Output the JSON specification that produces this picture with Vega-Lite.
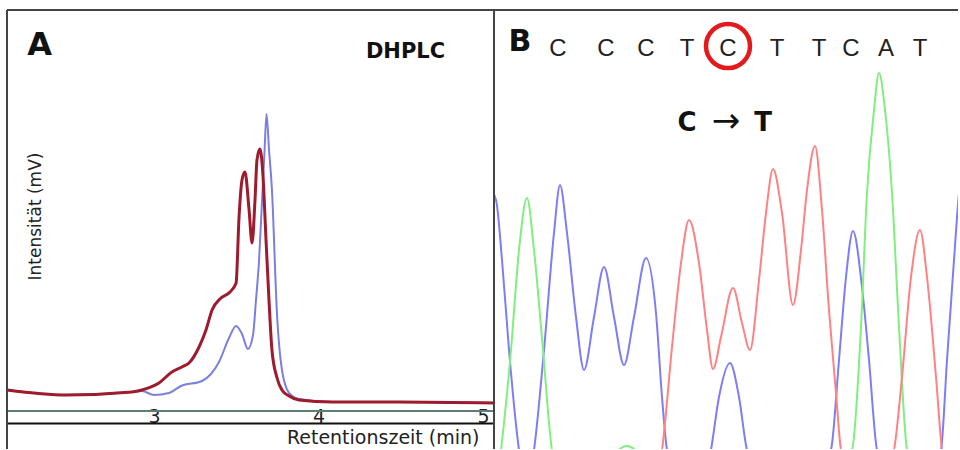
{
  "$schema": "https://vega.github.io/schema/vega-lite/v6.json",
  "background": "white",
  "padding": {"left": 1, "top": 9, "right": 0, "bottom": 0},
  "spacing": 0,
  "bounds": "flush",
  "config": {"view": {"stroke": null}, "font": "DejaVu Sans"},
  "datasets": {
    "hplc": [
      {"t": 2.106, "mv": 21, "trace": "Wildtyp"}, {"t": 2.465, "mv": 16, "trace": "Wildtyp"}, {"t": 2.866, "mv": 19, "trace": "Wildtyp"}, {"t": 2.927, "mv": 20, "trace": "Wildtyp"}, {"t": 3.000, "mv": 16, "trace": "Wildtyp"}, {"t": 3.091, "mv": 18, "trace": "Wildtyp"}, {"t": 3.164, "mv": 25, "trace": "Wildtyp"}, {"t": 3.292, "mv": 30, "trace": "Wildtyp"}, {"t": 3.395, "mv": 49, "trace": "Wildtyp"}, {"t": 3.456, "mv": 73, "trace": "Wildtyp"}, {"t": 3.499, "mv": 85, "trace": "Wildtyp"}, {"t": 3.535, "mv": 77, "trace": "Wildtyp"}, {"t": 3.571, "mv": 62, "trace": "Wildtyp"}, {"t": 3.602, "mv": 76, "trace": "Wildtyp"}, {"t": 3.620, "mv": 111, "trace": "Wildtyp"}, {"t": 3.638, "mv": 149, "trace": "Wildtyp"}, {"t": 3.657, "mv": 211, "trace": "Wildtyp"}, {"t": 3.672, "mv": 260, "trace": "Wildtyp"}, {"t": 3.684, "mv": 297, "trace": "Wildtyp"}, {"t": 3.699, "mv": 262, "trace": "Wildtyp"}, {"t": 3.717, "mv": 221, "trace": "Wildtyp"}, {"t": 3.748, "mv": 96, "trace": "Wildtyp"}, {"t": 3.778, "mv": 41, "trace": "Wildtyp"}, {"t": 3.821, "mv": 18, "trace": "Wildtyp"}, {"t": 3.881, "mv": 12, "trace": "Wildtyp"}, {"t": 4.082, "mv": 9, "trace": "Wildtyp"}, {"t": 4.489, "mv": 9, "trace": "Wildtyp"}, {"t": 5.067, "mv": 8, "trace": "Wildtyp"},
      {"t": 2.107, "mv": 21, "trace": "Mutation"}, {"t": 2.465, "mv": 16, "trace": "Mutation"}, {"t": 2.866, "mv": 19, "trace": "Mutation"}, {"t": 2.927, "mv": 21, "trace": "Mutation"}, {"t": 3.030, "mv": 28, "trace": "Mutation"}, {"t": 3.109, "mv": 39, "trace": "Mutation"}, {"t": 3.170, "mv": 44, "trace": "Mutation"}, {"t": 3.213, "mv": 48, "trace": "Mutation"}, {"t": 3.274, "mv": 64, "trace": "Mutation"}, {"t": 3.316, "mv": 81, "trace": "Mutation"}, {"t": 3.353, "mv": 101, "trace": "Mutation"}, {"t": 3.407, "mv": 113, "trace": "Mutation"}, {"t": 3.462, "mv": 119, "trace": "Mutation"}, {"t": 3.499, "mv": 128, "trace": "Mutation"}, {"t": 3.517, "mv": 194, "trace": "Mutation"}, {"t": 3.535, "mv": 231, "trace": "Mutation"}, {"t": 3.553, "mv": 239, "trace": "Mutation"}, {"t": 3.578, "mv": 201, "trace": "Mutation"}, {"t": 3.596, "mv": 168, "trace": "Mutation"}, {"t": 3.614, "mv": 211, "trace": "Mutation"}, {"t": 3.626, "mv": 251, "trace": "Mutation"}, {"t": 3.644, "mv": 262, "trace": "Mutation"}, {"t": 3.663, "mv": 234, "trace": "Mutation"}, {"t": 3.681, "mv": 171, "trace": "Mutation"}, {"t": 3.699, "mv": 111, "trace": "Mutation"}, {"t": 3.717, "mv": 61, "trace": "Mutation"}, {"t": 3.748, "mv": 33, "trace": "Mutation"}, {"t": 3.778, "mv": 21, "trace": "Mutation"}, {"t": 3.821, "mv": 15, "trace": "Mutation"}, {"t": 3.881, "mv": 11, "trace": "Mutation"}, {"t": 4.082, "mv": 9, "trace": "Mutation"}, {"t": 4.489, "mv": 9, "trace": "Mutation"}, {"t": 5.067, "mv": 8, "trace": "Mutation"}
    ],
    "seq": [
      {"scan": -7, "signal": 265, "dye": "C"}, {"scan": 2, "signal": 250, "dye": "C"}, {"scan": 8, "signal": 190, "dye": "C"}, {"scan": 15, "signal": 100, "dye": "C"}, {"scan": 25, "signal": 0, "dye": "C"}, {"scan": 32, "signal": -40, "dye": "C"}, {"scan": 40, "signal": 0, "dye": "C"}, {"scan": 50, "signal": 100, "dye": "C"}, {"scan": 60, "signal": 217, "dye": "C"}, {"scan": 66, "signal": 265, "dye": "C"}, {"scan": 73, "signal": 217, "dye": "C"}, {"scan": 82, "signal": 133, "dye": "C"}, {"scan": 90, "signal": 80, "dye": "C"}, {"scan": 100, "signal": 133, "dye": "C"}, {"scan": 110, "signal": 183, "dye": "C"}, {"scan": 120, "signal": 133, "dye": "C"}, {"scan": 130, "signal": 85, "dye": "C"}, {"scan": 140, "signal": 133, "dye": "C"}, {"scan": 152, "signal": 192, "dye": "C"}, {"scan": 162, "signal": 137, "dye": "C"}, {"scan": 168, "signal": 53, "dye": "C"}, {"scan": 173, "signal": 0, "dye": "C"}, {"scan": 195, "signal": -70, "dye": "C"}, {"scan": 217, "signal": 0, "dye": "C"}, {"scan": 225, "signal": 53, "dye": "C"}, {"scan": 236, "signal": 87, "dye": "C"}, {"scan": 245, "signal": 53, "dye": "C"}, {"scan": 253, "signal": 0, "dye": "C"}, {"scan": 295, "signal": -80, "dye": "C"}, {"scan": 337, "signal": 0, "dye": "C"}, {"scan": 345, "signal": 90, "dye": "C"}, {"scan": 352, "signal": 173, "dye": "C"}, {"scan": 359, "signal": 219, "dye": "C"}, {"scan": 368, "signal": 163, "dye": "C"}, {"scan": 375, "signal": 90, "dye": "C"}, {"scan": 383, "signal": 0, "dye": "C"}, {"scan": 415, "signal": -70, "dye": "C"}, {"scan": 447, "signal": 0, "dye": "C"}, {"scan": 453, "signal": 90, "dye": "C"}, {"scan": 460, "signal": 190, "dye": "C"}, {"scan": 465, "signal": 257, "dye": "C"}, {"scan": 473, "signal": 300, "dye": "C"},
      {"scan": -5, "signal": -80, "dye": "A"}, {"scan": 7, "signal": 0, "dye": "A"}, {"scan": 17, "signal": 100, "dye": "A"}, {"scan": 25, "signal": 200, "dye": "A"}, {"scan": 33, "signal": 252, "dye": "A"}, {"scan": 40, "signal": 200, "dye": "A"}, {"scan": 49, "signal": 100, "dye": "A"}, {"scan": 58, "signal": 0, "dye": "A"}, {"scan": 85, "signal": -80, "dye": "A"}, {"scan": 117, "signal": -8, "dye": "A"}, {"scan": 133, "signal": 4, "dye": "A"}, {"scan": 149, "signal": -8, "dye": "A"}, {"scan": 185, "signal": -80, "dye": "A"}, {"scan": 285, "signal": -90, "dye": "A"}, {"scan": 358, "signal": 0, "dye": "A"}, {"scan": 367, "signal": 123, "dye": "A"}, {"scan": 373, "signal": 257, "dye": "A"}, {"scan": 380, "signal": 340, "dye": "A"}, {"scan": 385, "signal": 377, "dye": "A"}, {"scan": 391, "signal": 340, "dye": "A"}, {"scan": 398, "signal": 257, "dye": "A"}, {"scan": 405, "signal": 123, "dye": "A"}, {"scan": 413, "signal": 0, "dye": "A"}, {"scan": 440, "signal": -80, "dye": "A"}, {"scan": 475, "signal": -80, "dye": "A"},
      {"scan": 145, "signal": -80, "dye": "T"}, {"scan": 168, "signal": 0, "dye": "T"}, {"scan": 178, "signal": 103, "dye": "T"}, {"scan": 187, "signal": 187, "dye": "T"}, {"scan": 195, "signal": 230, "dye": "T"}, {"scan": 205, "signal": 187, "dye": "T"}, {"scan": 213, "signal": 120, "dye": "T"}, {"scan": 219, "signal": 81, "dye": "T"}, {"scan": 227, "signal": 113, "dye": "T"}, {"scan": 239, "signal": 162, "dye": "T"}, {"scan": 248, "signal": 127, "dye": "T"}, {"scan": 256, "signal": 100, "dye": "T"}, {"scan": 265, "signal": 170, "dye": "T"}, {"scan": 272, "signal": 237, "dye": "T"}, {"scan": 279, "signal": 281, "dye": "T"}, {"scan": 288, "signal": 237, "dye": "T"}, {"scan": 299, "signal": 145, "dye": "T"}, {"scan": 307, "signal": 200, "dye": "T"}, {"scan": 313, "signal": 260, "dye": "T"}, {"scan": 321, "signal": 304, "dye": "T"}, {"scan": 328, "signal": 240, "dye": "T"}, {"scan": 335, "signal": 140, "dye": "T"}, {"scan": 342, "signal": 57, "dye": "T"}, {"scan": 347, "signal": 0, "dye": "T"}, {"scan": 373, "signal": -70, "dye": "T"}, {"scan": 400, "signal": 0, "dye": "T"}, {"scan": 408, "signal": 73, "dye": "T"}, {"scan": 417, "signal": 173, "dye": "T"}, {"scan": 426, "signal": 220, "dye": "T"}, {"scan": 433, "signal": 173, "dye": "T"}, {"scan": 442, "signal": 73, "dye": "T"}, {"scan": 448, "signal": 0, "dye": "T"}, {"scan": 465, "signal": -70, "dye": "T"}, {"scan": 480, "signal": -70, "dye": "T"}
    ],
    "bases": [
      {"pos": 64, "base": "C"}, {"pos": 112, "base": "C"}, {"pos": 152, "base": "C"}, {"pos": 193, "base": "T"}, {"pos": 234, "base": "C"}, {"pos": 283, "base": "T"}, {"pos": 325, "base": "T"}, {"pos": 357, "base": "C"}, {"pos": 392, "base": "A"}, {"pos": 426, "base": "T"}
    ],
    "mutation": [
      {"pos": 193, "label": "C", "part": "from"}, {"pos": 232, "label": "→", "part": "arrow"}, {"pos": 269, "label": "T", "part": "to"}
    ]
  },
  "hconcat": [
    {
      "width": 487,
      "height": 439,
      "layer": [
        {
          "data": {"values": [{}]},
          "mark": {"type": "rule", "color": "#5d7f77", "strokeWidth": 2},
          "encoding": {"y": {"datum": 0, "type": "quantitative", "scale": {"domain": [-38, 401], "nice": false, "zero": false},
            "axis": {"domain": false, "ticks": false, "labels": false, "grid": false, "title": "Intensität (mV)", "titleX": 28, "titleY": 206, "titleAngle": -90, "titleAlign": "center", "titleBaseline": "middle", "titleFontSize": 17, "titleFontWeight": "normal", "titleColor": "#222"}}}
        },
        {
          "data": {"name": "hplc"},
          "transform": [{"filter": "datum.trace == 'Wildtyp'"}],
          "mark": {"type": "line", "color": "#7b7fe0", "strokeWidth": 2, "interpolate": "monotone"},
          "encoding": {
            "x": {"field": "t", "type": "quantitative", "scale": {"domain": [2.1064, 5.0669], "nice": false, "zero": false},
              "axis": {"values": [3, 4, 5], "format": "d", "offset": -26, "grid": false, "ticks": false, "tickSize": 0, "domainColor": "#111", "domainWidth": 2, "labelPadding": -1, "labelBaseline": "alphabetic", "labelFontSize": 19, "labelColor": "#222", "labelFlush": false, "labelBound": false, "labelOverlap": false, "title": "Retentionszeit (min)", "titleFontSize": 19, "titleFontWeight": "normal", "titleColor": "#222", "titleX": 472, "titleY": 20, "titleAlign": "right", "titleBaseline": "alphabetic", "titleAnchor": "end"}},
            "y": {"field": "mv", "type": "quantitative", "scale": {"domain": [-38, 401], "nice": false, "zero": false},
              "axis": {"domain": false, "ticks": false, "labels": false, "grid": false, "title": "Intensität (mV)", "titleX": 28, "titleY": 206, "titleAngle": -90, "titleAlign": "center", "titleBaseline": "middle", "titleFontSize": 17, "titleFontWeight": "normal", "titleColor": "#222"}}
          }
        },
        {
          "data": {"name": "hplc"},
          "transform": [{"filter": "datum.trace == 'Mutation'"}],
          "mark": {"type": "line", "color": "#9e1b2e", "strokeWidth": 3, "interpolate": "monotone"},
          "encoding": {
            "x": {"field": "t", "type": "quantitative", "scale": {"domain": [2.1064, 5.0669], "nice": false, "zero": false},
              "axis": {"values": [3, 4, 5], "format": "d", "offset": -26, "grid": false, "ticks": false, "tickSize": 0, "domainColor": "#111", "domainWidth": 2, "labelPadding": -1, "labelBaseline": "alphabetic", "labelFontSize": 19, "labelColor": "#222", "labelFlush": false, "labelBound": false, "labelOverlap": false, "title": "Retentionszeit (min)", "titleFontSize": 19, "titleFontWeight": "normal", "titleColor": "#222", "titleX": 472, "titleY": 20, "titleAlign": "right", "titleBaseline": "alphabetic", "titleAnchor": "end"}},
            "y": {"field": "mv", "type": "quantitative", "scale": {"domain": [-38, 401], "nice": false, "zero": false},
              "axis": {"domain": false, "ticks": false, "labels": false, "grid": false, "title": "Intensität (mV)", "titleX": 28, "titleY": 206, "titleAngle": -90, "titleAlign": "center", "titleBaseline": "middle", "titleFontSize": 17, "titleFontWeight": "normal", "titleColor": "#222"}}
          }
        },
        {
          "data": {"values": [{}]},
          "mark": {"type": "text", "text": "A", "fontSize": 32, "fontWeight": "bold", "align": "center", "baseline": "middle", "color": "#111"},
          "encoding": {
            "x": {"datum": 2.304, "type": "quantitative", "scale": {"domain": [2.1064, 5.0669], "nice": false, "zero": false},
              "axis": {"values": [3, 4, 5], "format": "d", "offset": -26, "grid": false, "ticks": false, "tickSize": 0, "domainColor": "#111", "domainWidth": 2, "labelPadding": -1, "labelBaseline": "alphabetic", "labelFontSize": 19, "labelColor": "#222", "labelFlush": false, "labelBound": false, "labelOverlap": false, "title": "Retentionszeit (min)", "titleFontSize": 19, "titleFontWeight": "normal", "titleColor": "#222", "titleX": 472, "titleY": 20, "titleAlign": "right", "titleBaseline": "alphabetic", "titleAnchor": "end"}},
            "y": {"datum": 366, "type": "quantitative", "scale": {"domain": [-38, 401], "nice": false, "zero": false},
              "axis": {"domain": false, "ticks": false, "labels": false, "grid": false, "title": "Intensität (mV)", "titleX": 28, "titleY": 206, "titleAngle": -90, "titleAlign": "center", "titleBaseline": "middle", "titleFontSize": 17, "titleFontWeight": "normal", "titleColor": "#222"}}
          }
        },
        {
          "data": {"values": [{}]},
          "mark": {"type": "text", "text": "DHPLC", "fontSize": 21, "fontWeight": "bold", "align": "center", "baseline": "middle", "color": "#111"},
          "encoding": {
            "x": {"datum": 4.529, "type": "quantitative", "scale": {"domain": [2.1064, 5.0669], "nice": false, "zero": false},
              "axis": {"values": [3, 4, 5], "format": "d", "offset": -26, "grid": false, "ticks": false, "tickSize": 0, "domainColor": "#111", "domainWidth": 2, "labelPadding": -1, "labelBaseline": "alphabetic", "labelFontSize": 19, "labelColor": "#222", "labelFlush": false, "labelBound": false, "labelOverlap": false, "title": "Retentionszeit (min)", "titleFontSize": 19, "titleFontWeight": "normal", "titleColor": "#222", "titleX": 472, "titleY": 20, "titleAlign": "right", "titleBaseline": "alphabetic", "titleAnchor": "end"}},
            "y": {"datum": 359, "type": "quantitative", "scale": {"domain": [-38, 401], "nice": false, "zero": false},
              "axis": {"domain": false, "ticks": false, "labels": false, "grid": false, "title": "Intensität (mV)", "titleX": 28, "titleY": 206, "titleAngle": -90, "titleAlign": "center", "titleBaseline": "middle", "titleFontSize": 17, "titleFontWeight": "normal", "titleColor": "#222"}}
          }
        },
        {
          "data": {"values": [{"edge": 2.1064}, {"edge": 5.0669}]},
          "mark": {"type": "rule", "color": "#444", "strokeWidth": 2},
          "encoding": {"x": {"field": "edge", "type": "quantitative", "scale": {"domain": [2.1064, 5.0669], "nice": false, "zero": false},
            "axis": {"values": [3, 4, 5], "format": "d", "offset": -26, "grid": false, "ticks": false, "tickSize": 0, "domainColor": "#111", "domainWidth": 2, "labelPadding": -1, "labelBaseline": "alphabetic", "labelFontSize": 19, "labelColor": "#222", "labelFlush": false, "labelBound": false, "labelOverlap": false, "title": "Retentionszeit (min)", "titleFontSize": 19, "titleFontWeight": "normal", "titleColor": "#222", "titleX": 472, "titleY": 20, "titleAlign": "right", "titleBaseline": "alphabetic", "titleAnchor": "end"}}}
        },
        {
          "data": {"values": [{}]},
          "mark": {"type": "rule", "color": "#444", "strokeWidth": 2},
          "encoding": {"y": {"datum": 401, "type": "quantitative", "scale": {"domain": [-38, 401], "nice": false, "zero": false},
            "axis": {"domain": false, "ticks": false, "labels": false, "grid": false, "title": "Intensität (mV)", "titleX": 28, "titleY": 206, "titleAngle": -90, "titleAlign": "center", "titleBaseline": "middle", "titleFontSize": 17, "titleFontWeight": "normal", "titleColor": "#222"}}}
        }
      ]
    },
    {
      "width": 464,
      "height": 439,
      "layer": [
        {
          "data": {"name": "seq"},
          "mark": {"type": "line", "strokeWidth": 2, "interpolate": "monotone", "clip": true},
          "encoding": {
            "x": {"field": "scan", "type": "quantitative", "scale": {"domain": [0, 464], "nice": false, "zero": false}, "axis": null},
            "y": {"field": "signal", "type": "quantitative", "scale": {"domain": [1, 440], "nice": false, "zero": false}, "axis": null},
            "color": {"field": "dye", "type": "nominal", "scale": {"domain": ["C", "A", "T"], "range": ["#7d7df7", "#80ee80", "#ff8282"]}, "legend": null}
          }
        },
        {
          "data": {"name": "bases"},
          "mark": {"type": "text", "font": "Liberation Sans", "fontSize": 24, "align": "center", "baseline": "middle", "color": "#222"},
          "encoding": {
            "x": {"field": "pos", "type": "quantitative", "scale": {"domain": [0, 464], "nice": false, "zero": false}, "axis": null},
            "y": {"datum": 401, "type": "quantitative", "scale": {"domain": [1, 440], "nice": false, "zero": false}, "axis": null},
            "text": {"field": "base"}
          }
        },
        {
          "data": {"name": "bases"},
          "transform": [{"filter": "datum.pos == 234"}],
          "mark": {"type": "point", "shape": "circle", "size": 1936, "filled": false, "strokeWidth": 4.5, "color": "#e3191c", "opacity": 1},
          "encoding": {
            "x": {"field": "pos", "type": "quantitative", "scale": {"domain": [0, 464], "nice": false, "zero": false}, "axis": null},
            "y": {"datum": 404, "type": "quantitative", "scale": {"domain": [1, 440], "nice": false, "zero": false}, "axis": null}
          }
        },
        {
          "data": {"values": [{}]},
          "mark": {"type": "text", "text": "B", "fontSize": 30, "fontWeight": "bold", "align": "center", "baseline": "middle", "color": "#111"},
          "encoding": {
            "x": {"datum": 26, "type": "quantitative", "scale": {"domain": [0, 464], "nice": false, "zero": false}, "axis": null},
            "y": {"datum": 408, "type": "quantitative", "scale": {"domain": [1, 440], "nice": false, "zero": false}, "axis": null}
          }
        },
        {
          "data": {"name": "mutation"},
          "transform": [{"filter": "datum.part != 'arrow'"}],
          "mark": {"type": "text", "fontSize": 26, "fontWeight": "bold", "align": "center", "baseline": "middle", "color": "#111"},
          "encoding": {
            "x": {"field": "pos", "type": "quantitative", "scale": {"domain": [0, 464], "nice": false, "zero": false}, "axis": null},
            "y": {"datum": 327, "type": "quantitative", "scale": {"domain": [1, 440], "nice": false, "zero": false}, "axis": null},
            "text": {"field": "label"}
          }
        },
        {
          "data": {"name": "mutation"},
          "transform": [{"filter": "datum.part == 'arrow'"}],
          "mark": {"type": "text", "fontSize": 34, "fontWeight": "normal", "align": "center", "baseline": "middle", "color": "#111"},
          "encoding": {
            "x": {"field": "pos", "type": "quantitative", "scale": {"domain": [0, 464], "nice": false, "zero": false}, "axis": null},
            "y": {"datum": 328, "type": "quantitative", "scale": {"domain": [1, 440], "nice": false, "zero": false}, "axis": null},
            "text": {"field": "label"}
          }
        },
        {
          "data": {"values": [{}]},
          "mark": {"type": "rule", "color": "#444", "strokeWidth": 2},
          "encoding": {"y": {"datum": 440, "type": "quantitative", "scale": {"domain": [1, 440], "nice": false, "zero": false}, "axis": null}}
        },
        {
          "data": {"values": [{}]},
          "mark": {"type": "rule", "color": "#444", "strokeWidth": 2},
          "encoding": {"x": {"datum": 0, "type": "quantitative", "scale": {"domain": [0, 464], "nice": false, "zero": false}, "axis": null}}
        }
      ]
    }
  ]
}
